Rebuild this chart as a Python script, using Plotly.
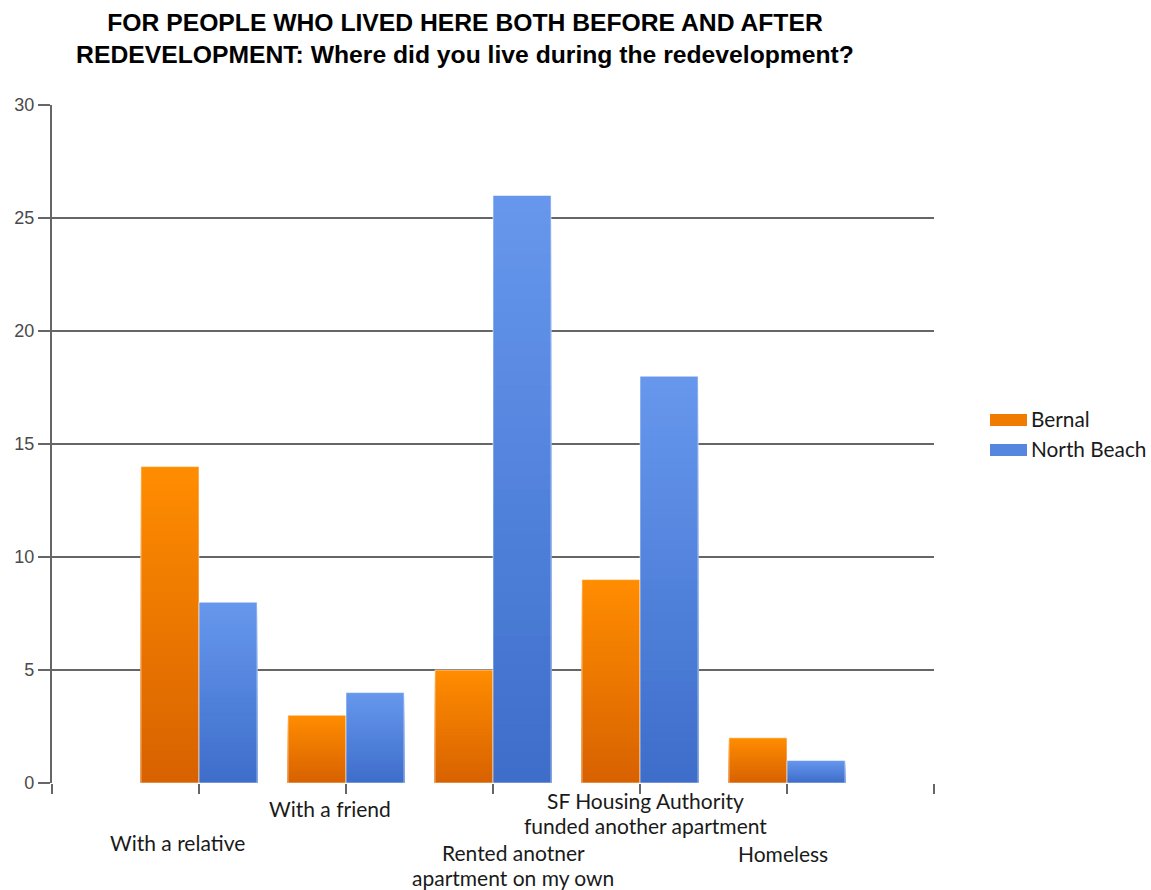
import plotly.graph_objects as go

# Survey answers: where residents lived during the redevelopment
categories = [
    "With a relative",
    "With a friend",
    "Rented anotner<br>apartment on my own",
    "SF Housing Authority<br>funded another apartment",
    "Homeless",
]
bernal = [14, 3, 5, 9, 2]
north_beach = [8, 4, 26, 18, 1]
series_names = ["Bernal", "North Beach"]
y_ticks = [0, 5, 10, 15, 20, 25, 30]

# Gradient end colours (top, bottom) for each series
ORANGE = ((255, 140, 0), (216, 98, 0))
BLUE = ((102, 151, 237), (62, 110, 202))

BAR_W = 0.395
STEPS = 40


def mix(c_top, c_bot, t):
    r, g, b = (round(c_top[i] + (c_bot[i] - c_top[i]) * t) for i in range(3))
    return f"rgb({r},{g},{b})"


fig = go.Figure()
x_pos = list(range(len(categories)))

# Each bar is built from overlapping slices that shrink toward the baseline,
# producing a vertical gradient (light at the top, dark at the bottom).
for values, colors, offset in ((bernal, ORANGE, -BAR_W), (north_beach, BLUE, 0.0)):
    for k in range(STEPS):
        frac = (STEPS - k) / STEPS
        fig.add_trace(go.Bar(
            x=x_pos,
            y=[v * frac for v in values],
            width=BAR_W,
            offset=offset,
            marker=dict(color=mix(colors[0], colors[1], k / (STEPS - 1)), line=dict(width=0)),
            showlegend=False,
            hoverinfo="skip",
        ))
    # thin pale outline around each bar
    fig.add_trace(go.Bar(
        x=x_pos,
        y=values,
        width=BAR_W,
        offset=offset,
        marker=dict(color="rgba(0,0,0,0)", line=dict(width=1, color="rgba(255,255,255,0.55)")),
        showlegend=False,
        hoverinfo="skip",
    ))

fig.update_layout(
    width=1151,
    height=890,
    margin=dict(l=52, r=217, t=105, b=107),
    paper_bgcolor="white",
    plot_bgcolor="white",
    barmode="overlay",
    showlegend=False,
    title=dict(
        text="FOR PEOPLE WHO LIVED HERE BOTH BEFORE AND AFTER<br>REDEVELOPMENT: Where did you live during the redevelopment?",
        x=465 / 1151,
        xanchor="center",
        y=1 - 31 / 890,
        yanchor="middle",
        font=dict(family="Liberation Sans", size=24.7, color="black", weight="bold"),
    ),
    xaxis=dict(
        range=[-1, 5],
        tickvals=[-1, 0, 1, 2, 3, 4, 5],
        showticklabels=False,
        ticks="outside",
        ticklen=10,
        tickwidth=2,
        tickcolor="#666666",
        showgrid=False,
        zeroline=False,
        showline=False,
        fixedrange=True,
    ),
    yaxis=dict(
        range=[0, 30],
        tickvals=y_ticks,
        ticks="outside",
        ticklen=12,
        tickwidth=2,
        tickcolor="#666666",
        showgrid=True,
        gridcolor="#666666",
        gridwidth=2.4,
        zeroline=False,
        showline=True,
        linecolor="#666666",
        linewidth=2.4,
        tickfont=dict(family="Liberation Sans", size=18, color="#4a4a4a"),
        fixedrange=True,
    ),
)

# Category labels below the axis, staggered; each line placed on its own
label_pos = [
    (177, 843),
    (330, 808),
    (513, 852),
    (645, 800),
    (783, 853),
]
LINE_GAP = 25
for text, (px, py) in zip(categories, label_pos):
    for i, line in enumerate(text.split("<br>")):
        fig.add_annotation(
            text=line,
            xref="paper", yref="paper",
            x=(px - 52) / (934 - 52),
            y=(783 - (py + i * LINE_GAP)) / (783 - 105),
            xanchor="center", yanchor="middle",
            showarrow=False,
            borderpad=0,
            font=dict(family="Lato", size=21, color="#1a1a1a"),
        )

# Legend drawn as swatches with text
legend_items = [(series_names[0], ORANGE, 420), (series_names[1], BLUE, 450)]
for name, colors, py in legend_items:
    fig.add_shape(
        type="rect",
        xref="paper", yref="paper",
        x0=(990 - 52) / 882, x1=(1027 - 52) / 882,
        y0=(783 - py - 6) / 678, y1=(783 - py + 6) / 678,
        fillcolor=mix(colors[0], colors[1], 0.4),
        line=dict(width=0),
    )
    fig.add_annotation(
        text=name,
        xref="paper", yref="paper",
        x=(1029 - 52) / 882,
        y=(783 - py + 2) / 678,
        xanchor="left", yanchor="middle",
        showarrow=False,
        font=dict(family="Lato", size=20.8, color="#1a1a1a"),
    )

fig.write_html("out.html")
